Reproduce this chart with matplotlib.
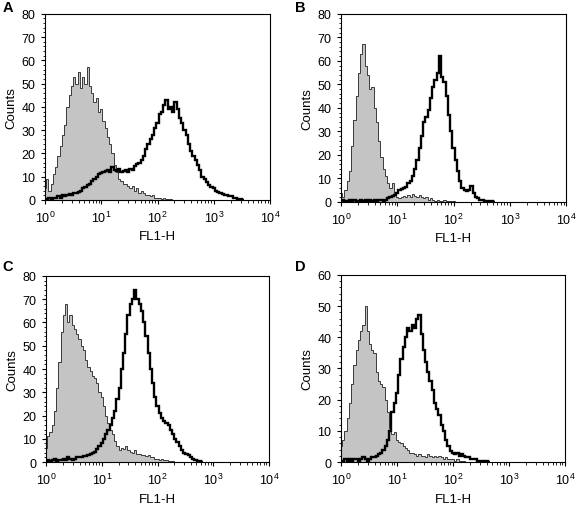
import matplotlib
matplotlib.use("Agg")
import matplotlib.pyplot as plt
from matplotlib.ticker import LogLocator, MultipleLocator, NullFormatter
import numpy as np

plt.rcParams['font.family'] = ['Liberation Sans', 'DejaVu Sans']

# FL1-H channels, 25 channels per decade, channel 0 = 10^0
CH_PER_DECADE = 25

# panel A
gray_a = [5, 9, 4, 7, 11, 14, 19, 23, 28, 32, 40, 45, 49, 53, 50, 55, 48, 53, 50, 57,
          49, 46, 42, 44, 38, 39, 34, 31, 27, 24, 20, 15, 12, 9, 8, 7, 7, 6, 5, 6,
          4, 5, 3, 4, 3, 2, 2, 1.5, 2, 1, 1, 1, 0.5, 1, 0.5, 0.5, 0.5, 0]
black_a = [0, 0.5, 1, 0.5, 1, 1, 1.5, 1, 2, 1.5, 2, 2.5, 2, 3, 3, 3.5, 4, 5, 5.5, 6.5,
           7, 8, 9, 10, 11, 11.5, 12, 12.5, 13, 12, 14, 13, 12.5, 13.5, 12, 12.5, 13, 12, 13.5, 13,
           14.5, 15.5, 16, 17, 19, 22, 24, 26, 28, 31, 33, 37, 38, 41, 43, 39, 40, 38, 42, 39,
           35, 33, 30, 28, 24, 21, 19, 17, 15, 13, 10, 9, 7.5, 6.5, 5.5, 5, 4, 3.5, 3, 2.5,
           2, 2, 1.5, 1.5, 1, 1, 0.5, 0.5, 0]

# panel B
gray_b = [4, 2, 5, 9, 13, 24, 35, 45, 55, 63, 67, 58, 54, 48, 49, 40, 34, 26, 19, 14,
          11, 8, 6, 8, 3, 2, 1.5, 2, 2.5, 2, 3, 2, 3.5, 2.5, 2, 3, 2, 1.5, 2, 1,
          1.5, 1, 0.5, 1, 0.5, 0.5, 1, 0.5, 0.5, 0.3, 0.5, 0]
black_b = [0.5, 1, 0.5, 0.5, 1, 0.5, 1, 0.5, 0.5, 1, 0.5, 1, 0.5, 1, 0.5, 1, 0.5, 1, 1, 0.5,
           1, 1.5, 2, 2.5, 3, 4, 5, 5.5, 6, 6.5, 8, 9, 11, 14, 18, 23, 28, 34, 36, 39,
           44, 49, 52, 55, 62, 53, 51, 45, 37, 30, 23, 18, 13, 9, 6, 5, 4.5, 5, 7, 4,
           2, 1.5, 1, 1, 0.5, 0.5, 0.3, 0.3, 0]

# panel C
gray_c = [6, 11, 13, 16, 22, 32, 43, 56, 63, 68, 60, 63, 59, 57, 55, 53, 50, 48, 44, 41,
          39, 37, 36, 34, 30, 28, 24, 20, 17, 14, 12, 9, 7, 5, 6, 5.5, 7, 5, 4.5, 4,
          5, 3.5, 3.5, 3, 3, 2.5, 3, 2, 2, 1.5, 1.5, 1, 1.5, 0.8, 0.7, 0.5, 0.5, 0.3, 0]
black_c = [0.5, 1, 0.5, 1, 1.5, 0.5, 1, 1, 1.5, 1, 2, 1.5, 1, 1.5, 2, 2, 2, 2.5, 2.5, 3,
           3.5, 4, 4.5, 5.5, 7, 8, 10, 12, 14, 16, 19, 22, 27, 32, 40, 47, 55, 63, 68, 70,
           74, 70, 68, 65, 60, 54, 47, 40, 34, 28, 24, 21, 19, 17.5, 17, 16, 14, 12, 10, 8.5,
           7, 5, 4, 3.5, 3, 2, 1.5, 1, 0.5, 0.3, 0]

# panel D
gray_d = [5, 7, 10, 14, 19, 25, 31, 36, 39, 42, 44, 50, 42, 38, 36, 35, 29, 26, 25, 24,
          20, 16, 11, 9, 9.5, 7, 6.5, 6, 5, 4.5, 4, 3, 3, 2.5, 2, 2.5, 2, 2, 1.5, 2.5,
          2, 1.5, 2, 1.5, 2, 1.5, 1, 1.5, 1, 1, 1, 0.5, 1, 0.5, 0.5, 0.3, 0]
black_d = [0.5, 0.5, 1, 0.5, 1, 0.5, 1, 1, 0.5, 1, 1.5, 1, 0.5, 1, 1.5, 1.5, 2, 2.5, 3, 4,
           5, 7, 10, 16, 19, 22, 28, 33, 37, 40, 43, 42, 44, 43, 46, 47, 41, 36, 32, 29,
           26, 23, 19, 17, 15, 12, 10, 7, 5, 3.5, 3, 2.5, 3, 2, 2.5, 2, 1.5, 1.5, 1, 1,
           1, 0.5, 0.5, 0.5, 0.3, 0.3, 0]

# letter, gray curve, black curve, y max, axes rect, letter position
panels = [
    ("A", gray_a, black_a, 80, [0.078, 0.606, 0.391, 0.365], (0.004, 0.977)),
    ("B", gray_b, black_b, 80, [0.592, 0.602, 0.391, 0.369], (0.512, 0.977)),
    ("C", gray_c, black_c, 80, [0.080, 0.092, 0.387, 0.365], (0.004, 0.468)),
    ("D", gray_d, black_d, 60, [0.592, 0.092, 0.389, 0.367], (0.512, 0.468)),
]


def channel_edges(n):
    ch = np.arange(n + 1) - 0.5
    return 10 ** (ch / CH_PER_DECADE)


fig = plt.figure(figsize=(5.76, 5.10), dpi=100)

for letter, gray, black, ymax, rect, lpos in panels:
    ax = fig.add_axes(rect)
    ax.set_xscale('log')
    ax.stairs(gray, channel_edges(len(gray)), fill=True, color='#c4c4c4', baseline=0)
    ax.stairs(gray, channel_edges(len(gray)), color='#3a3a3a', lw=0.7, baseline=None)
    ax.stairs(black, channel_edges(len(black)), color='black', lw=1.7, baseline=None)

    ax.set_xlim(1, 1e4)
    ax.set_ylim(0, ymax)
    ax.xaxis.set_major_locator(LogLocator(base=10, numticks=10))
    ax.xaxis.set_minor_locator(LogLocator(base=10, subs=np.arange(2, 10), numticks=20))
    ax.xaxis.set_minor_formatter(NullFormatter())
    ax.yaxis.set_major_locator(MultipleLocator(10))
    ax.yaxis.set_minor_locator(MultipleLocator(2))
    ax.tick_params(which='major', direction='out', length=3, width=0.8, labelsize=9, pad=4)
    ax.tick_params(which='minor', direction='out', length=1.8, width=0.6)
    ax.tick_params(axis='x', which='major', pad=4)
    for sp in ax.spines.values():
        sp.set_linewidth(0.8)
    ax.set_xlabel('FL1-H', fontsize=9.5, labelpad=4)
    ax.set_ylabel('Counts', fontsize=9.5, labelpad=3)

    fig.text(lpos[0], lpos[1], letter, fontsize=10.5, fontweight='bold',
             va='baseline', ha='left')

fig.savefig('out.png', dpi=100)
